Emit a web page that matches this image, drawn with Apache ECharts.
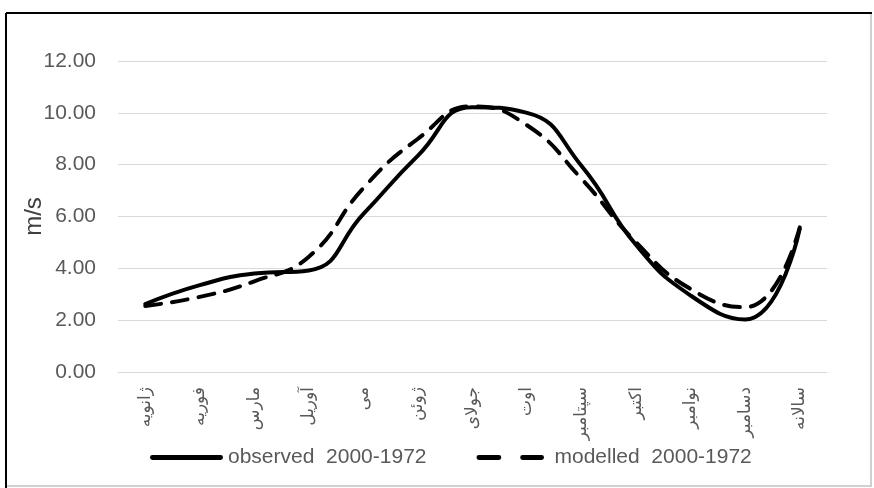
<!DOCTYPE html>
<html><head><meta charset="utf-8">
<script src="https://cdn.jsdelivr.net/npm/echarts@6/dist/echarts.min.js"></script>
<style>html,body{margin:0;padding:0;background:#fff}#c{width:874px;height:488px}</style>
</head><body><div id="c"></div>
<script>
const months = ['ژانویه','فوریه','مارس','آوریل','می','ژوئن','جولای','اوت','سپتامبر','اکتبر','نوامبر','دسامبر','سالانه'];
const observed = [2.62, 3.35, 3.8, 3.92, 6.1, 8.35, 10.22, 10.0, 7.95, 4.9, 2.95, 2.03, 5.52];
const modelled = [2.55, 2.9, 3.5, 4.45, 7.1, 9.0, 10.25, 9.52, 7.45, 5.0, 3.2, 2.5, 5.58];
const yTicks = [0, 2, 4, 6, 8, 10, 12];
const seriesNames = ['observed  2000-1972', 'modelled  2000-1972'];

const chart = echarts.init(document.getElementById('c'));
const latin = '"Liberation Sans", Arial, sans-serif';
const solidIcon = 'path://M2,0h69a2,2 0 0 1 0,5h-69a2,2 0 0 1 0,-5z';
const dashIcon = 'path://M2,0h20a2,2 0 0 1 0,5h-20a2,2 0 0 1 0,-5z M46,0h19a2,2 0 0 1 0,5h-19a2,2 0 0 1 0,-5z M73,0h0.01v5h-0.01z';
chart.setOption({
  animation: false,
  backgroundColor: '#ffffff',
  grid: { left: 118, right: 47, top: 61, bottom: 116 },
  xAxis: {
    type: 'category', data: months, boundaryGap: true,
    axisLine: { show: true, lineStyle: { color: '#d9d9d9', width: 1 } },
    axisTick: { show: false },
    axisLabel: { rotate: 90, margin: 15, color: '#595959', fontSize: 17, fontFamily: '"DejaVu Sans", sans-serif', interval: 0 }
  },
  yAxis: {
    type: 'value', min: yTicks[0], max: yTicks[yTicks.length - 1], interval: 2,
    name: 'm/s', nameLocation: 'middle', nameRotate: 90, nameGap: 72, nameMoveOverlap: false,
    nameTextStyle: { color: '#404040', fontSize: 24, fontFamily: latin },
    axisLine: { show: false }, axisTick: { show: false },
    axisLabel: { margin: 22, color: '#595959', fontSize: 21, fontFamily: latin, formatter: v => v.toFixed(2) },
    splitLine: { lineStyle: { color: '#d9d9d9', width: 1 } }
  },
  legend: {
    left: 145, top: 442, itemGap: 50, itemWidth: 73, itemHeight: 5,
    textStyle: { color: '#595959', fontSize: 21, fontFamily: latin },
    data: [
      { name: seriesNames[0], icon: solidIcon, itemStyle: { color: '#000' } },
      { name: seriesNames[1], icon: dashIcon, itemStyle: { color: '#000' } }
    ]
  },
  series: [
    { name: seriesNames[0], type: 'line', data: observed, smooth: 0.5, symbol: 'none',
      lineStyle: { color: '#000', width: 4, cap: 'round', join: 'round' }, itemStyle: { color: '#000' } },
    { name: seriesNames[1], type: 'line', data: modelled, smooth: 0.5, symbol: 'none',
      lineStyle: { color: '#000', width: 4, type: [16, 11], cap: 'round', join: 'round' }, itemStyle: { color: '#000' } }
  ],
  graphic: [
    { type: 'line', shape: { x1: 6, y1: 13, x2: 872, y2: 13 }, style: { stroke: '#000', lineWidth: 2 } },
    { type: 'line', shape: { x1: 6, y1: 13, x2: 6, y2: 488 }, style: { stroke: '#000', lineWidth: 2 } },
    { type: 'line', shape: { x1: 871, y1: 14, x2: 871, y2: 486 }, style: { stroke: '#d0d0d0', lineWidth: 2 } },
    { type: 'line', shape: { x1: 7, y1: 486, x2: 872, y2: 486 }, style: { stroke: '#d0d0d0', lineWidth: 2 } }
  ]
});
</script></body></html>
